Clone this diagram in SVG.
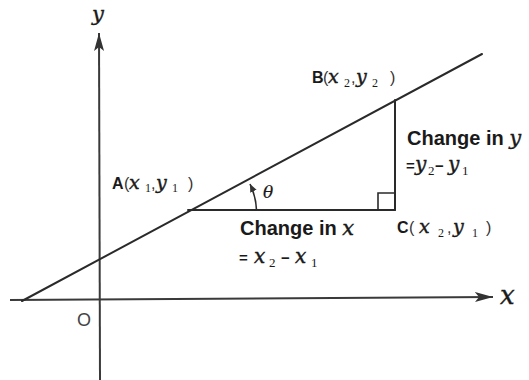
<svg xmlns="http://www.w3.org/2000/svg" width="529" height="380" viewBox="0 0 529 380">
<style>
.ln{stroke:#2a2a2a;stroke-width:2;fill:none;stroke-linecap:round}
.ax{stroke:#3a3a3a;stroke-width:2;fill:none}
.thin{stroke:#2a2a2a;stroke-width:1.6;fill:none}
.lb{font-family:"Liberation Sans",Arial,sans-serif;font-weight:bold;font-size:16px;fill:#1a1a1a}
.big{font-family:"Liberation Sans",Arial,sans-serif;font-weight:bold;font-size:20px;fill:#1a1a1a}
.op{font-family:"Liberation Sans",Arial,sans-serif;font-weight:bold;font-size:15px;fill:#1a1a1a}
.it{font-family:"DejaVu Serif","Liberation Serif",serif;font-style:italic;font-weight:normal;font-size:19px;fill:#1a1a1a;stroke:#1a1a1a;stroke-width:0.4}
.sub{font-family:"Liberation Serif","Times New Roman",serif;font-style:normal;font-weight:normal;font-size:12px;fill:#1a1a1a}
.pr{font-family:"Liberation Sans",Arial,sans-serif;font-weight:normal;font-size:16px;fill:#333}
</style>
<defs>
<marker id="ah" markerWidth="20" markerHeight="12" refX="18" refY="5" orient="auto" markerUnits="userSpaceOnUse">
<path d="M0,0 L18,5 L0,10 L4,5 Z" fill="#333"/>
</marker>
<marker id="sa" markerWidth="10" markerHeight="8" refX="8" refY="3.5" orient="auto" markerUnits="userSpaceOnUse">
<path d="M0,0 L8,3.5 L0,7 Z" fill="#333"/>
</marker>
</defs>
<g id="connectors">
<line id="x-axis" class="ax" x1="10" y1="300" x2="493" y2="297" marker-end="url(#ah)"/>
<line id="y-axis" class="ax" x1="100" y1="380" x2="99" y2="33" marker-end="url(#ah)"/>
<line id="line" class="ln" x1="22" y1="301" x2="482" y2="54"/>
<line id="run" class="ln" x1="188" y1="210" x2="395" y2="210"/>
<line id="rise" class="ln" x1="395" y1="100" x2="395" y2="210"/>
<path id="right-angle" class="thin" d="M378,210 V193 H395"/>
<path id="angle-arc" class="thin" d="M256.5,210 A68,68 0 0 0 250,184" marker-end="url(#sa)"/>
</g>
<g id="axis-labels">
<text class="it" x="92" y="21" style="font-size:21px">y</text>
<text class="it" x="500" y="304" style="font-size:26px">x</text>
<text x="77" y="326" font-family="Liberation Sans, Arial, sans-serif" font-size="18" fill="#444">O</text>
</g>
<g id="node-A">
<text class="lb" x="112" y="189">A</text>
<text class="pr" x="124" y="189">(</text>
<text class="it" x="129" y="189">x</text>
<text class="sub" x="145" y="192">1</text>
<text class="pr" x="151" y="189">,</text>
<text class="it" x="156" y="189">y</text>
<text class="sub" x="172" y="192">1</text>
<text class="pr" x="188" y="189">)</text>
</g>
<g id="node-B">
<text class="lb" x="312" y="83">B</text>
<text class="pr" x="323" y="83">(</text>
<text class="it" x="328" y="83">x</text>
<text class="sub" x="344" y="87">2</text>
<text class="pr" x="351" y="83">,</text>
<text class="it" x="356" y="83">y</text>
<text class="sub" x="372" y="87">2</text>
<text class="pr" x="390" y="83">)</text>
</g>
<g id="node-C">
<text class="lb" x="397" y="233">C</text>
<text class="pr" x="409" y="233">(</text>
<text class="it" x="419" y="233">x</text>
<text class="sub" x="438" y="237">2</text>
<text class="pr" x="447" y="233">,</text>
<text class="it" x="453" y="233">y</text>
<text class="sub" x="472" y="237">1</text>
<text class="pr" x="486" y="233">)</text>
</g>
<g id="theta">
<text class="it" x="263" y="198" style="font-size:17px;stroke-width:0.2">θ</text>
</g>
<g id="change-y">
<text class="big" x="407" y="145">Change in <tspan class="it" style="font-size:21px">y</tspan></text>
<text class="op" x="406" y="171">=</text>
<text class="it" x="415" y="171" style="font-size:20px">y</text>
<text class="sub" x="428" y="175" style="font-size:13px">2</text>
<text class="op" x="435" y="171">−</text>
<text class="it" x="448" y="171" style="font-size:20px">y</text>
<text class="sub" x="462" y="175" style="font-size:13px">1</text>
</g>
<g id="change-x">
<text class="big" x="240" y="235">Change in <tspan class="it" style="font-size:21px">x</tspan></text>
<text class="op" x="239" y="263">=</text>
<text class="it" x="254" y="263" style="font-size:20px">x</text>
<text class="sub" x="269" y="267" style="font-size:13px">2</text>
<text class="op" x="281" y="263">−</text>
<text class="it" x="295" y="263" style="font-size:20px">x</text>
<text class="sub" x="311" y="267" style="font-size:13px">1</text>
</g>
</svg>
